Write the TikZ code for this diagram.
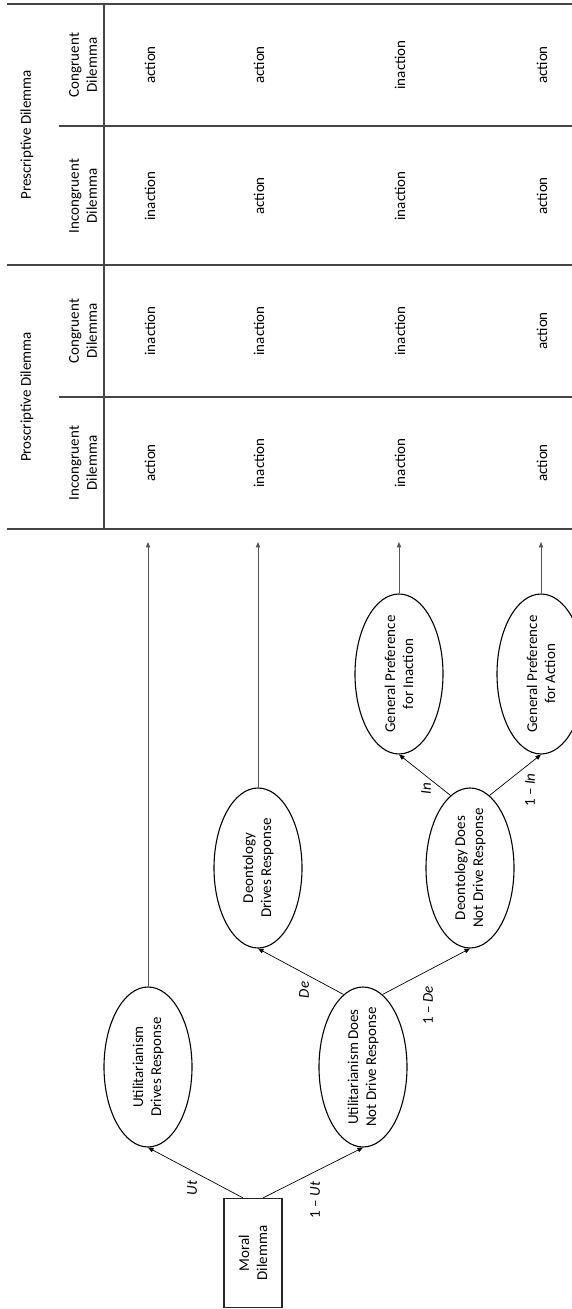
\documentclass[tikz,border=0pt]{standalone}
\usepackage{fontspec}
\setmainfont{Carlito}
\usetikzlibrary{shapes.geometric,arrows.meta,calc}
\definecolor{rulegray}{RGB}{70,70,70}
\definecolor{linegray}{RGB}{85,85,85}
\begin{document}
\begin{tikzpicture}[x=1pt,y=1pt,
  every node/.style={font=\fontsize{15}{18}\selectfont},
  txt/.style={rotate=90, align=center, inner sep=0pt},
  oval/.style={ellipse, draw=black, line width=1.1pt, minimum width=160pt, minimum height=88pt, inner sep=0pt, rotate=90},
  boxnode/.style={rectangle, draw=black!85, line width=1.2pt, minimum width=109pt, minimum height=58pt, inner sep=0pt, rotate=90},
  arr/.style={-{Triangle[length=5.5pt,width=4.5pt]}, line width=0.7pt, draw=black},
  longarr/.style={-{Triangle[length=5.5pt,width=4.5pt]}, line width=1pt, draw=linegray},
  rulel/.style={line width=1.3pt, draw=rulegray},
  lab/.style={rotate=90, inner sep=0pt}]

\useasboundingbox (0,0) rectangle (572,1309);
\clip (0,0) rectangle (572,1309);

% ---- tree nodes ----
\node[boxnode] (md) at (253,56) {};
\node[txt] (md-t) at (md) {Moral\\Dilemma};

\node[oval] (udr) at (148,242) {};
\node[txt] (udr-t) at (udr) {Utilitarianism\\Drives Response};
\node[oval] (udnr) at (363,242) {};
\node[txt] (udnr-t) at (udnr) {Utilitarianism Does\\Not Drive Response};

\node[oval] (ddr) at (258,441) {};
\node[txt] (ddr-t) at (ddr) {Deontology\\Drives Response};
\node[oval] (ddnr) at (470,441) {};
\node[txt] (ddnr-t) at (ddnr) {Deontology Does\\Not Drive Response};

\node[oval] (gpi) at (399,635) {};
\node[txt] (gpi-t) at (gpi) {General Preference\\for Inaction};
\node[oval] (gpa) at (541,635) {};
\node[txt] (gpa-t) at (gpa) {General Preference\\for Action};

% ---- branch arrows ----
\draw[arr] ($(md.east)+(-10,0)$) -- (udr.west);
\draw[arr] ($(md.east)+(10,0)$) -- (udnr.west);
\draw[arr] (udnr.15) -- (ddr.west);
\draw[arr] (udnr.-15) -- (ddnr.west);
\draw[arr] (ddnr.15) -- (gpi.west);
\draw[arr] (ddnr.-15) -- (gpa.west);

% ---- branch labels ----
\node[lab] (l-ut) at (192,121) {\textit{Ut}};
\node[lab] (l-nut) at (315,109) {1 – \textit{Ut}};
\node[lab] (l-de) at (304,319) {\textit{De}};
\node[lab] (l-nde) at (428,304) {1 – \textit{De}};
\node[lab] (l-in) at (426,520) {\textit{In}};
\node[lab] (l-nin) at (530,519) {1 – \textit{In}};

% ---- long arrows to the table ----
\coordinate (t1) at (148,767);
\coordinate (t2) at (258,767);
\coordinate (t3) at (399,767);
\coordinate (t4) at (541,767);
\draw[longarr] (udr.east) -- (t1);
\draw[longarr] (ddr.east) -- (t2);
\draw[longarr] (gpi.east) -- (t3);
\draw[longarr] (gpa.east) -- (t4);

% ---- table rules ----
\draw[rulel] (7,1305) -- (572,1305);
\draw[rulel] (59,1183) -- (572,1183);
\draw[rulel] (7,1044) -- (572,1044);
\draw[rulel] (59,912) -- (572,912);
\draw[rulel] (7,780) -- (572,780);
\draw[rulel] (104,1305) -- (104,780);

% ---- table headers ----
\node[txt] (h-pre) at (27,1174) {Prescriptive Dilemma};
\node[txt] (h-pro) at (27,912) {Proscriptive Dilemma};
\node[txt] (h-pre-c) at (83,1244) {Congruent\\Dilemma};
\node[txt] (h-pre-i) at (83,1113) {Incongruent\\Dilemma};
\node[txt] (h-pro-c) at (83,978) {Congruent\\Dilemma};
\node[txt] (h-pro-i) at (83,846) {Incongruent\\Dilemma};

% ---- table cells ----
% Prescriptive, congruent
\node[txt] (c11) at (150,1244) {action};
\node[txt] (c21) at (259,1244) {action};
\node[txt] (c31) at (400,1244) {inaction};
\node[txt] (c41) at (542,1244) {action};
% Prescriptive, incongruent
\node[txt] (c12) at (150,1113) {inaction};
\node[txt] (c22) at (259,1113) {action};
\node[txt] (c32) at (400,1113) {inaction};
\node[txt] (c42) at (542,1113) {action};
% Proscriptive, congruent
\node[txt] (c13) at (150,978) {inaction};
\node[txt] (c23) at (259,978) {inaction};
\node[txt] (c33) at (400,978) {inaction};
\node[txt] (c43) at (542,978) {action};
% Proscriptive, incongruent
\node[txt] (c14) at (150,846) {action};
\node[txt] (c24) at (259,846) {inaction};
\node[txt] (c34) at (400,846) {inaction};
\node[txt] (c44) at (542,846) {action};
\end{tikzpicture}
\end{document}
